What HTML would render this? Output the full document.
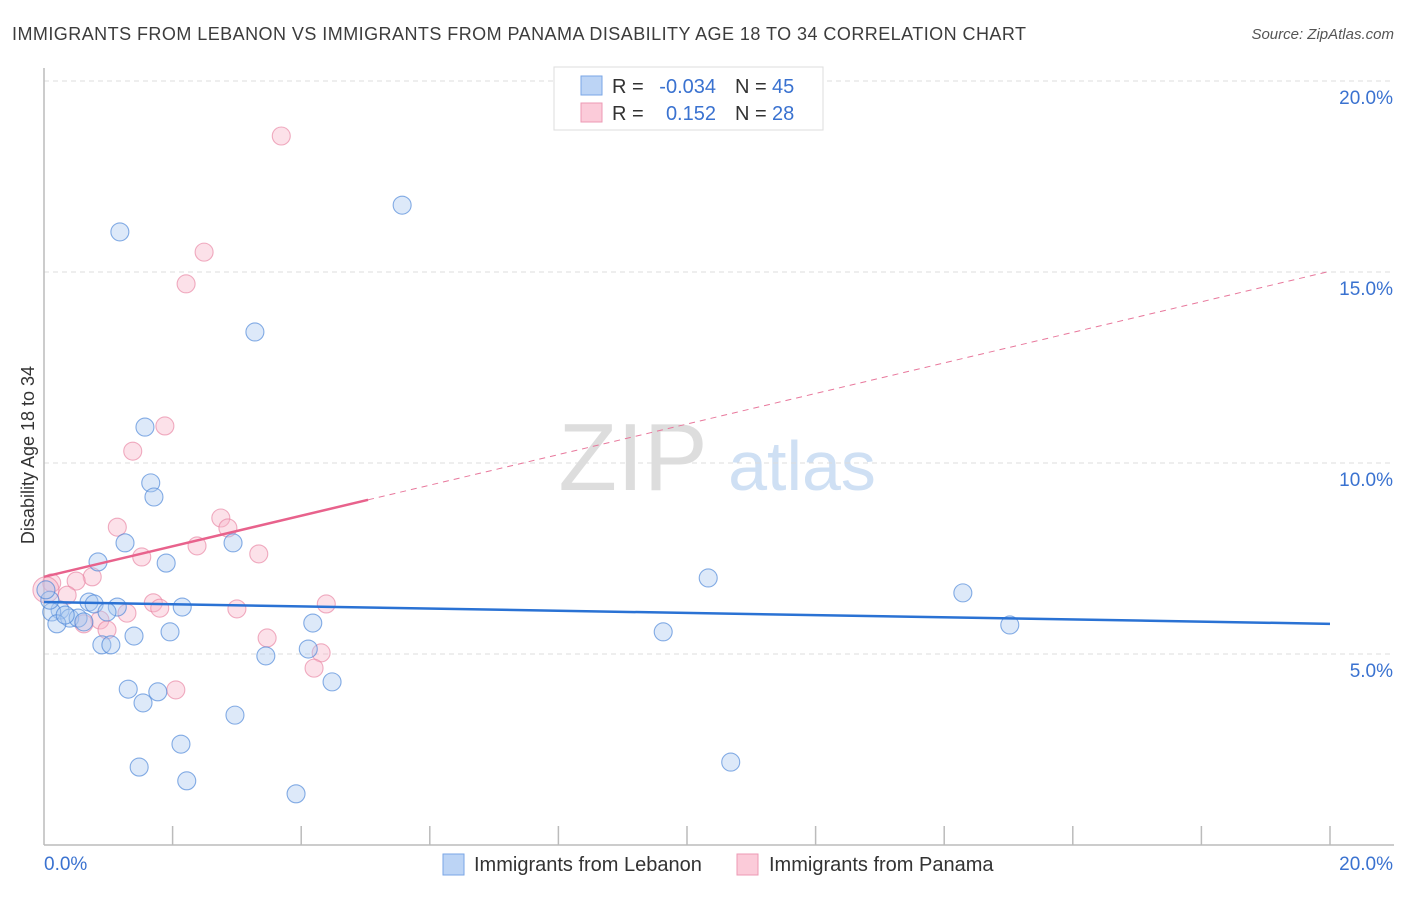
<!DOCTYPE html>
<html><head><meta charset="utf-8"><style>
body{margin:0;background:#fff;font-family:"Liberation Sans",sans-serif;}
svg text{font-family:"Liberation Sans",sans-serif;}
</style></head><body>
<svg id="chart" width="1406" height="892" xmlns="http://www.w3.org/2000/svg">
<text x="12" y="40" font-size="18" fill="#3c3c3c" textLength="1014" lengthAdjust="spacing">IMMIGRANTS FROM LEBANON VS IMMIGRANTS FROM PANAMA DISABILITY AGE 18 TO 34 CORRELATION CHART</text>
<text x="1394" y="39" font-size="15" fill="#555" font-style="italic" text-anchor="end">Source: ZipAtlas.com</text>
<g>
<text x="633" y="490" font-size="96" fill="#ddd" font-family="Liberation Serif" text-anchor="middle">ZIP</text>
<text x="802" y="490" font-size="70" fill="#cfe0f4" text-anchor="middle">atlas</text>
</g>
<g id="grid"></g>
<g id="axes"></g>
<g id="points"></g>
<g id="trends"></g>
<text transform="translate(34,455) rotate(-90)" font-size="18" fill="#333" text-anchor="middle">Disability Age 18 to 34</text>
<g>
<rect x="554" y="67" width="269" height="63" fill="#fff" stroke="#ddd"/>
<rect x="581" y="76" width="21" height="19" fill="#bcd4f5" stroke="#7aa6e6"/>
<rect x="581" y="103" width="21" height="19" fill="#fbcbd9" stroke="#ec9ab4"/>
<text x="612" y="93" font-size="20" fill="#333">R =</text>
<text x="716" y="93" font-size="20" fill="#3a72d0" text-anchor="end">-0.034</text>
<text x="735" y="93" font-size="20" fill="#333">N =</text>
<text x="772" y="93" font-size="20" fill="#3a72d0">45</text>
<text x="612" y="120" font-size="20" fill="#333">R =</text>
<text x="716" y="120" font-size="20" fill="#3a72d0" text-anchor="end">0.152</text>
<text x="735" y="120" font-size="20" fill="#333">N =</text>
<text x="772" y="120" font-size="20" fill="#3a72d0">28</text>
</g>
<g>
<rect x="443" y="854" width="21" height="21" fill="#bcd4f5" stroke="#7aa6e6"/>
<text x="474" y="871" font-size="20" fill="#333">Immigrants from Lebanon</text>
<rect x="737" y="854" width="21" height="21" fill="#fbcbd9" stroke="#ec9ab4"/>
<text x="769" y="871" font-size="20" fill="#333">Immigrants from Panama</text>
</g>
</svg>
<script>
const yTicks=[5,10,15,20];
const yTickLabels=["5.0%","10.0%","15.0%","20.0%"];
const xTickCount=10;
const xLabels=["0.0%","20.0%"];
const lebanonX=[1.18,5.57,3.28,1.57,1.66,1.71,1.26,2.94,0.84,1.90,10.33,14.29,0.70,0.78,1.14,2.15,0.25,0.12,0.40,0.53,0.62,0.20,4.18,15.02,1.96,1.40,9.63,0.90,1.04,4.11,3.45,4.48,1.31,1.77,1.54,2.97,2.13,1.48,10.68,2.22,3.92,0.09,0.03,0.33,0.98];
const lebanonY=[16.05,16.75,13.43,10.94,9.48,9.11,7.91,7.91,7.41,7.38,6.99,6.60,6.36,6.31,6.23,6.23,6.15,6.10,5.94,5.94,5.84,5.79,5.81,5.76,5.58,5.47,5.58,5.24,5.24,5.13,4.95,4.27,4.08,4.01,3.72,3.40,2.64,2.04,2.17,1.68,1.34,6.41,6.68,6.02,6.10];
const panamaX=[3.69,2.49,2.21,1.88,1.38,2.75,1.14,2.86,2.38,3.34,1.52,0.75,0.50,0.12,0.36,1.70,1.80,3.00,1.29,4.39,0.87,0.62,0.98,3.47,4.31,4.20,2.05,0.03];
const panamaY=[18.56,15.52,14.69,10.97,10.31,8.56,8.32,8.30,7.83,7.62,7.54,7.02,6.91,6.86,6.54,6.34,6.20,6.18,6.07,6.31,5.89,5.79,5.63,5.42,5.03,4.63,4.06,6.68];
const lebanonTrend=[6.36,5.79];
const panamaTrend=[7.02,15.02];
const panamaSolidEnd=5.04;

const NS="http://www.w3.org/2000/svg";
const X0=44,X1=1330,Y0=845,PXPER=38.2;
const sx=v=>X0+(v/20)*(X1-X0);
const sy=v=>Y0-v*PXPER;
function mk(tag,attrs,parent){const e=document.createElementNS(NS,tag);for(const k in attrs)e.setAttribute(k,attrs[k]);parent.appendChild(e);return e;}
const grid=document.getElementById('grid'),axes=document.getElementById('axes'),pts=document.getElementById('points'),tr=document.getElementById('trends');
yTicks.forEach((t,i)=>{
  const l=mk('line',{x1:X0,x2:1394,y1:sy(t),y2:sy(t),stroke:'#ddd','stroke-dasharray':'5,4'},grid);
  
  
  const tx=mk('text',{x:1393,y:sy(t)+23,'font-size':19,fill:'#3a72d0','text-anchor':'end'},axes);
  tx.textContent=yTickLabels[i];
  
  
});
const ax=mk('line',{x1:X0,x2:X0,y1:68,y2:Y0,stroke:'#bbb','stroke-width':1.5},axes);


const bx=mk('line',{x1:X0,x2:1394,y1:Y0,y2:Y0,stroke:'#bbb','stroke-width':1.5},axes);


for(let i=1;i<=xTickCount;i++){
  const t=mk('line',{x1:sx(i*20/xTickCount),x2:sx(i*20/xTickCount),y1:826,y2:Y0,stroke:'#bbb','stroke-width':1.5},axes);
  
  
}
const xl0=mk('text',{x:44,y:870,'font-size':19,fill:'#3a72d0'},axes);xl0.textContent=xLabels[0];


const xl1=mk('text',{x:1393,y:870,'font-size':19,fill:'#3a72d0','text-anchor':'end'},axes);xl1.textContent=xLabels[1];



panamaX.forEach((x,i)=>{
  const c=mk('circle',{cx:sx(x),cy:sy(panamaY[i]),r:i===panamaX.length-1?13:9,fill:'rgba(248,180,200,0.4)',stroke:'rgba(232,130,162,0.65)','stroke-width':1.1},pts);
  
  
});
lebanonX.forEach((x,i)=>{
  const c=mk('circle',{cx:sx(x),cy:sy(lebanonY[i]),r:9,fill:'rgba(170,200,240,0.4)',stroke:'rgba(70,130,215,0.65)','stroke-width':1.1},pts);
  
  
});
const pv=x=>panamaTrend[0]+(panamaTrend[1]-panamaTrend[0])*x/20;
const pd=mk('line',{x1:sx(panamaSolidEnd),y1:sy(pv(panamaSolidEnd)),x2:sx(20),y2:sy(pv(20)),stroke:'#e8789c','stroke-width':1,'stroke-dasharray':'6,5'},tr);


const ps=mk('line',{x1:sx(0),y1:sy(pv(0)),x2:sx(panamaSolidEnd),y2:sy(pv(panamaSolidEnd)),stroke:'#e8628c','stroke-width':2.5},tr);


const ls=mk('line',{x1:sx(0),y1:sy(lebanonTrend[0]),x2:sx(20),y2:sy(lebanonTrend[1]),stroke:'#2a72d4','stroke-width':2.5},tr);


</script>
</body></html>
